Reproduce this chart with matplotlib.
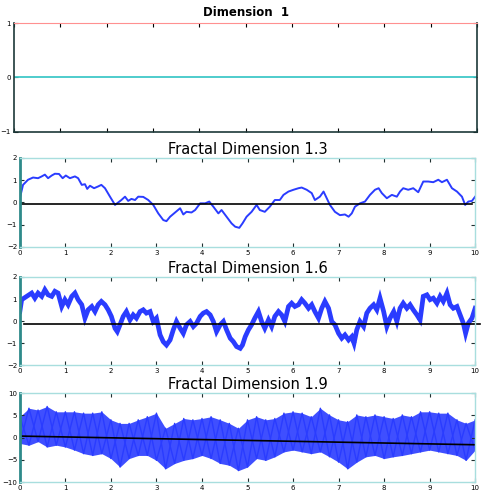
import numpy as np
import matplotlib
matplotlib.use("Agg")
import matplotlib.pyplot as plt

# ---- data ----
titles = ["Dimension  1", "Fractal Dimension 1.3", "Fractal Dimension 1.6", "Fractal Dimension 1.9"]

# dimension 1.3 trace
t13 = [0, 0.07, 0.18, 0.29, 0.40, 0.48, 0.55, 0.62, 0.70, 0.77, 0.86, 0.94, 1.01, 1.10, 1.21, 1.28,
       1.36, 1.43, 1.48, 1.54, 1.63, 1.72, 1.79, 1.87, 1.98, 2.09, 2.16, 2.23, 2.31, 2.38, 2.45, 2.53,
       2.60, 2.71, 2.82, 2.93, 3.04, 3.15, 3.22, 3.30, 3.41, 3.52, 3.59, 3.66, 3.77, 3.85, 3.96, 4.07,
       4.16, 4.25, 4.36, 4.43, 4.54, 4.65, 4.73, 4.82, 4.89, 4.98, 5.09, 5.20, 5.27, 5.38, 5.49, 5.60,
       5.71, 5.79, 5.90, 6.01, 6.12, 6.19, 6.30, 6.41, 6.48, 6.59, 6.67, 6.74, 6.81, 6.92, 7.03, 7.14,
       7.22, 7.29, 7.36, 7.47, 7.58, 7.69, 7.80, 7.88, 7.95, 8.06, 8.17, 8.28, 8.35, 8.42, 8.53, 8.64,
       8.75, 8.86, 8.97, 9.08, 9.19, 9.27, 9.38, 9.49, 9.60, 9.71, 9.78, 9.85, 9.93, 10.0]
v13 = [0.19, 0.79, 1.02, 1.12, 1.09, 1.17, 1.25, 1.09, 1.21, 1.29, 1.28, 1.09, 1.21, 1.09, 1.17, 1.09,
       0.79, 0.82, 0.61, 0.75, 0.64, 0.72, 0.79, 0.64, 0.26, -0.11, 0.0, 0.11, 0.26, 0.07, 0.16, 0.11,
       0.26, 0.25, 0.11, -0.11, -0.49, -0.79, -0.84, -0.64, -0.45, -0.26, -0.54, -0.42, -0.45, -0.34, -0.04, -0.04,
       0.04, -0.19, -0.49, -0.34, -0.64, -0.94, -1.09, -1.14, -0.94, -0.64, -0.42, -0.11, -0.34, -0.42, -0.19, 0.11,
       0.11, 0.34, 0.49, 0.57, 0.64, 0.67, 0.57, 0.42, 0.11, 0.26, 0.49, 0.19, -0.11, -0.42, -0.57, -0.54,
       -0.64, -0.49, -0.19, -0.04, 0.04, 0.34, 0.57, 0.64, 0.42, 0.19, 0.34, 0.26, 0.49, 0.64, 0.57, 0.64,
       0.46, 0.94, 0.94, 0.91, 1.02, 0.91, 1.02, 0.64, 0.49, 0.26, -0.11, 0.04, 0.07, 0.26]

# dimension 1.6 trace
t16 = [0, 0.04, 0.15, 0.26, 0.33, 0.40, 0.48, 0.55, 0.62, 0.70, 0.77, 0.84, 0.92, 0.99, 1.06, 1.14,
       1.21, 1.28, 1.36, 1.43, 1.50, 1.58, 1.65, 1.72, 1.79, 1.87, 1.94, 2.01, 2.09, 2.14, 2.20, 2.27,
       2.34, 2.42, 2.49, 2.56, 2.64, 2.71, 2.78, 2.86, 2.93, 3.00, 3.08, 3.15, 3.22, 3.30, 3.37, 3.44,
       3.52, 3.59, 3.66, 3.74, 3.81, 3.88, 3.96, 4.03, 4.10, 4.18, 4.25, 4.32, 4.40, 4.47, 4.54, 4.62,
       4.69, 4.76, 4.84, 4.89, 4.95, 5.02, 5.09, 5.16, 5.24, 5.31, 5.38, 5.46, 5.53, 5.60, 5.68, 5.75,
       5.82, 5.90, 5.97, 6.04, 6.12, 6.19, 6.26, 6.34, 6.41, 6.48, 6.56, 6.63, 6.70, 6.78, 6.85, 6.92,
       7.00, 7.07, 7.14, 7.22, 7.29, 7.34, 7.40, 7.47, 7.55, 7.62, 7.69, 7.77, 7.84, 7.91, 7.99, 8.06,
       8.13, 8.21, 8.28, 8.35, 8.42, 8.50, 8.57, 8.64, 8.72, 8.79, 8.86, 8.94, 9.01, 9.08, 9.16, 9.23,
       9.30, 9.38, 9.45, 9.52, 9.60, 9.67, 9.74, 9.79, 9.85, 9.93, 10.0]
v16 = [0.43, 0.97, 1.12, 1.27, 1.04, 1.27, 1.12, 1.42, 1.19, 1.12, 1.35, 1.27, 0.66, 0.97, 0.74, 1.12,
       1.27, 0.97, 0.74, 0.13, 0.51, 0.66, 0.43, 0.74, 0.89, 0.74, 0.51, 0.21, -0.33, -0.48, -0.17, 0.21,
       0.43, 0.05, 0.28, 0.13, 0.43, 0.51, 0.36, 0.43, -0.02, 0.13, -0.63, -0.94, -1.09, -0.86, -0.40, -0.02,
       -0.33, -0.56, -0.17, -0.02, -0.25, -0.10, 0.21, 0.36, 0.43, 0.28, -0.02, -0.48, -0.17, -0.02, -0.40, -0.78,
       -0.94, -1.16, -1.24, -1.09, -0.71, -0.40, -0.17, 0.13, 0.43, -0.02, -0.33, 0.05, -0.25, 0.21, 0.43, 0.28,
       -0.02, 0.66, 0.81, 0.66, 0.74, 0.97, 0.81, 0.58, 0.74, 0.43, 0.13, 0.58, 0.89, 0.58, -0.02, -0.17,
       -0.56, -0.78, -0.63, -0.86, -0.71, -1.01, -0.40, -0.02, -0.25, 0.36, 0.58, 0.74, 0.51, 1.04, 0.43, -0.25,
       0.13, 0.43, -0.02, 0.58, 0.81, 0.58, 0.74, 0.51, 0.28, 0.05, 1.12, 1.19, 0.97, 1.04, 0.81, 1.12,
       0.89, 1.27, 0.74, 0.58, 0.66, 0.28, -0.10, -0.56, -0.10, 0.13, 0.58]

# dimension 1.9: upper / lower envelope of the noise band
t19 = [0, 0.2, 0.4, 0.6, 0.8, 1.0, 1.2, 1.4, 1.6, 1.8, 2.0, 2.2, 2.4, 2.6, 2.8, 3.0, 3.2, 3.4,
       3.6, 3.8, 4.0, 4.2, 4.4, 4.6, 4.8, 5.0, 5.2, 5.4, 5.6, 5.8, 6.0, 6.2, 6.4, 6.6, 6.8, 7.0,
       7.2, 7.4, 7.6, 7.8, 8.0, 8.2, 8.4, 8.6, 8.8, 9.0, 9.2, 9.4, 9.6, 9.8, 10.0]
hi19 = [4.7, 6.6, 6.2, 7.0, 5.8, 5.8, 5.8, 5.5, 5.5, 5.8, 4.0, 3.2, 3.2, 4.0, 4.7, 5.5, 2.1, 3.2,
        4.3, 4.0, 4.3, 4.7, 4.0, 3.2, 2.1, 4.0, 4.7, 4.0, 4.3, 5.5, 5.8, 5.5, 4.7, 6.6, 5.1, 4.0,
        3.6, 5.1, 4.7, 5.1, 4.7, 4.3, 5.1, 4.7, 5.8, 5.8, 5.5, 5.5, 4.0, 3.2, 4.0]
lo19 = [-1.3, -1.7, -0.9, -2.1, -1.7, -2.1, -2.8, -3.6, -4.0, -3.6, -4.7, -6.6, -4.7, -4.0, -4.0, -5.1, -7.0, -5.8,
        -5.1, -4.7, -4.0, -4.7, -5.8, -6.2, -7.4, -6.6, -4.7, -5.1, -4.3, -3.2, -2.8, -3.2, -3.6, -3.2, -4.3, -5.5,
        -7.0, -5.5, -4.3, -4.0, -4.7, -4.3, -4.0, -3.6, -3.2, -2.8, -3.2, -3.6, -4.0, -5.1, -2.8]

# black reference lines (x0, x1, y0, y1)
ref13 = [0, 9.93, -0.07, -0.07]
ref16 = [0.1, 10.1, -0.15, -0.15]
ref19 = [0, 10, 0.35, -1.6]

blue = "#2a3cff"
frame = "#a8dede"

fig = plt.figure(figsize=(4.96, 4.92), dpi=100)
ax1 = fig.add_axes([0.028, 0.732, 0.934, 0.221])
ax2 = fig.add_axes([0.040, 0.498, 0.918, 0.181])
ax3 = fig.add_axes([0.040, 0.258, 0.918, 0.179])
ax4 = fig.add_axes([0.040, 0.020, 0.918, 0.181])

# top panel: flat line
ax1.plot([0, 10], [0, 0], color="#40c8c8", lw=1.3)
ax1.set_xlim(0, 10)
ax1.set_ylim(-1, 1)
ax1.set_yticks([1, 0, -1])
ax1.set_xticks(np.arange(0, 11))
ax1.set_xticklabels([])
for s in ["left", "bottom", "right"]:
    ax1.spines[s].set_color("#1c3838")
    ax1.spines[s].set_linewidth(1.2)
ax1.spines["top"].set_color("#ff9090")
ax1.tick_params(direction="in", length=3, labelsize=5, top=True, right=True, pad=2)
ax1.set_title(titles[0], fontsize=8.5, fontweight="bold", pad=5)

# fractal panels
ax2.plot(t13, v13, color=blue, lw=1.4)
ax2.plot(ref13[:2], ref13[2:], color="black", lw=1.2)

ax3.plot(t16, v16, color=blue, lw=3.4, solid_joinstyle="miter")
ax3.plot(ref16[:2], ref16[2:], color="black", lw=1.2, clip_on=False)

# noise band: fill between envelopes plus crossing strokes between the read extremes
zig_a_t, zig_a_v, zig_b_t, zig_b_v = [], [], [], []
for i in range(len(t19)):
    zig_a_t.append(t19[i])
    zig_a_v.append(hi19[i] if i % 2 == 0 else lo19[i])
    zig_b_t.append(t19[i])
    zig_b_v.append(lo19[i] if i % 2 == 0 else hi19[i])
ax4.fill_between(t19, lo19, hi19, color=blue, lw=0, alpha=0.9)
ax4.plot(zig_a_t, zig_a_v, color=blue, lw=1.0)
ax4.plot(zig_b_t, zig_b_v, color=blue, lw=1.0)
ax4.plot(ref19[:2], ref19[2:], color="black", lw=1.2)

for ax, title, lim in [(ax2, titles[1], 2), (ax3, titles[2], 2), (ax4, titles[3], 10)]:
    ax.set_xlim(0, 10)
    ax.set_ylim(-lim, lim)
    if lim == 2:
        ax.set_yticks([2, 1, 0, -1, -2])
    else:
        ax.set_yticks([10, 5, 0, -5, -10])
    ax.set_xticks(np.arange(0, 11))
    for s in ax.spines.values():
        s.set_color(frame)
        s.set_linewidth(1.0)
    ax.spines["left"].set_color("#2e8a8a")
    ax.spines["left"].set_linewidth(2.0)
    ax.tick_params(direction="in", length=3, labelsize=5, top=True, right=True, pad=2,
                   color="#203030")
    ax.set_title(title, fontsize=10.5, pad=3)

fig.savefig("out.png", dpi=100)
